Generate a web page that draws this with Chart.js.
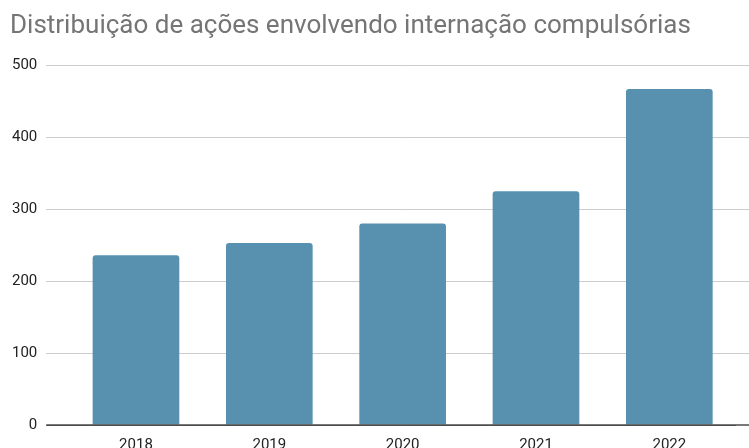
<!DOCTYPE html>
<html lang="pt">
<head>
<meta charset="utf-8">
<title>Distribuição de ações envolvendo internação compulsórias</title>
<script src="https://cdn.jsdelivr.net/npm/chart.js@4.4.1/dist/chart.umd.min.js"></script>
<style>
  html, body { margin: 0; padding: 0; background: #fff; overflow: hidden; }
  #wrap { width: 749px; height: 457px; }
</style>
</head>
<body>
<div id="wrap"><canvas id="chart" width="749" height="457"></canvas></div>
<script>
'use strict';

// ── Data ──────────────────────────────────────────────────────────────────────
const years   = ['2018', '2019', '2020', '2021', '2022'];
const acoes   = [236, 253, 280, 325, 467];
const yTicks  = [0, 100, 200, 300, 400, 500];

const TITLE     = 'Distribuição de ações envolvendo internação compulsórias';
const BAR_COLOR = '#5891b0';
const GRID      = '#cccccc';
const BASELINE  = '#4d4d4d';
const FONT      = 'Roboto, "Liberation Sans", Arial, sans-serif';

// Google-style grid: lines run past the plot on the right, baseline drawn over the bars
const gridExtend = {
  id: 'gridExtend',
  afterDatasetsDraw(chart) {
    const { ctx, chartArea, scales } = chart;
    const y = scales.y;
    ctx.save();
    yTicks.forEach(v => {
      if (v === 0) return;
      const py = Math.round(y.getPixelForValue(v) - 0.5) + 0.5;
      ctx.strokeStyle = GRID;
      ctx.lineWidth = 1;
      ctx.beginPath();
      ctx.moveTo(chartArea.right, py);
      ctx.lineTo(chart.width, py);
      ctx.stroke();
    });
    const p0 = y.getPixelForValue(0);
    ctx.strokeStyle = BASELINE;
    ctx.lineWidth = 1.6;
    ctx.beginPath();
    ctx.moveTo(chartArea.left - y.options.grid.tickLength, p0);
    ctx.lineTo(chart.width, p0);
    ctx.stroke();
    ctx.restore();
  },
};

new Chart(document.getElementById('chart'), {
  type: 'bar',
  data: {
    labels: years,
    datasets: [{
      label: 'Ações',
      data: acoes,
      backgroundColor: BAR_COLOR,
      borderWidth: 0,
      borderRadius: 3,
      borderSkipped: 'bottom',
      categoryPercentage: 0.65,
      barPercentage: 1.0,
    }],
  },
  options: {
    responsive: false,
    animation: false,
    devicePixelRatio: 1,
    layout: { padding: { left: 10, right: 13, top: 0, bottom: 0 } },
    plugins: {
      legend: { display: false },
      tooltip: { enabled: false },
      title: {
        display: true,
        text: TITLE,
        align: 'start',
        color: '#757575',
        font: { family: FONT, size: 26, weight: 'normal' },
        padding: { top: 11, bottom: 23 },
      },
    },
    scales: {
      x: {
        grid: { display: false },
        border: { display: false },
        ticks: { color: '#222', font: { family: FONT, size: 15 }, padding: 3 },
      },
      y: {
        min: 0,
        max: 500,
        afterBuildTicks: axis => { axis.ticks = yTicks.map(v => ({ value: v })); },
        afterFit: axis => { axis.width = 59.3; },
        border: { display: false },
        grid: {
          color: ctx => (ctx.tick && ctx.tick.value === 0 ? BASELINE : GRID),
          lineWidth: 1,
          tickLength: 23,
          drawTicks: true,
        },
        ticks: { color: '#222', font: { family: FONT, size: 15 }, padding: 9 },
      },
    },
  },
  plugins: [gridExtend],
});
</script>
</body>
</html>
